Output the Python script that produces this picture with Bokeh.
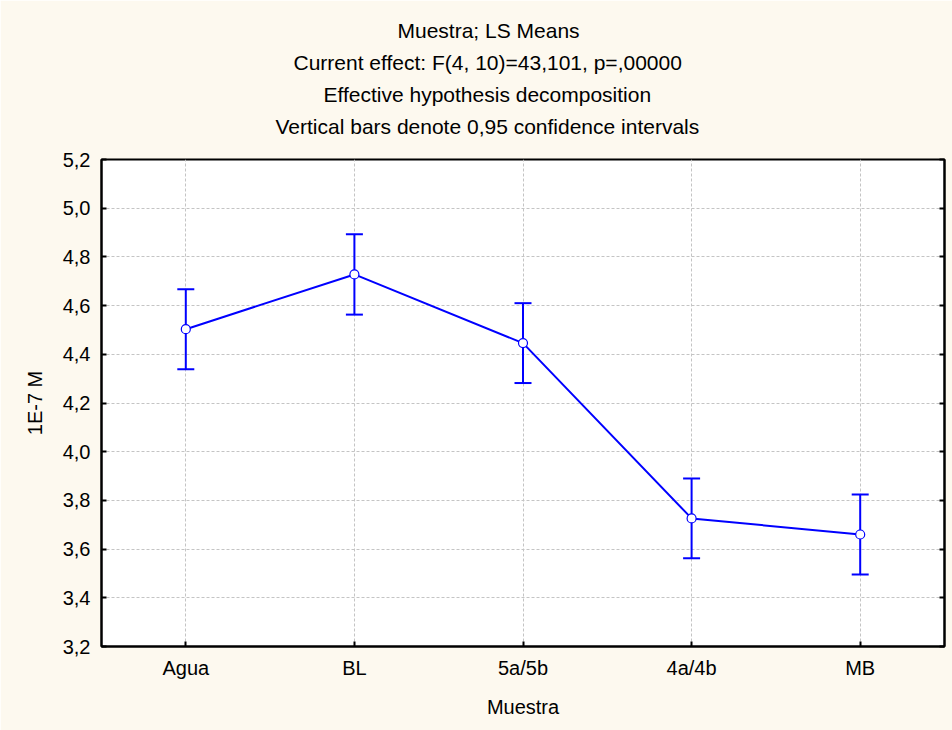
from bokeh.plotting import figure
from bokeh.models import (ColumnDataSource, Whisker, TeeHead, FactorRange, Range1d,
                          LinearAxis, FixedTicker, CustomJSTickFormatter, Title)
from bokeh.embed import file_html
from bokeh.resources import INLINE

# LS means per sample with 95% confidence limits
categories = ["Agua", "BL", "5a/5b", "4a/4b", "MB"]
means = [4.503, 4.728, 4.446, 3.726, 3.660]
ci_low = [4.339, 4.563, 4.282, 3.562, 3.496]
ci_high = [4.667, 4.893, 4.610, 3.890, 3.824]
y_ticks = [3.2, 3.4, 3.6, 3.8, 4.0, 4.2, 4.4, 4.6, 4.8, 5.0, 5.2]

title_lines = [
    "Muestra; LS Means",
    "Current effect: F(4, 10)=43,101, p=,00000",
    "Effective hypothesis decomposition",
    "Vertical bars denote 0,95 confidence intervals",
]
# left offsets (px from the frame's left edge) that centre each line on the page
title_offsets = [296, 192, 222, 174]

FONT = "Liberation Sans"
FS = "20px"
BG = "#fdf9ef"
BLUE = "#0000ff"

src = ColumnDataSource(dict(cat=categories, mean=means, lo=ci_low, hi=ci_high))

p = figure(width=952, height=730, output_backend="svg", toolbar_location=None,
           x_range=FactorRange(*categories, range_padding=0),
           y_range=Range1d(3.2, 5.2),
           min_border_left=101, min_border_right=8,
           min_border_top=159, min_border_bottom=84)
p.title = None
p.background_fill_color = "white"
p.border_fill_color = BG
p.outline_line_color = "black"
p.outline_line_width = 2

# small gap between the header block and the frame
p.add_layout(Title(text=" ", text_font=FONT, text_font_size="4px", standoff=11), "above")

# stacked header lines (first added sits nearest the frame)
for line, off in reversed(list(zip(title_lines, title_offsets))):
    p.add_layout(Title(text=line, align="left", offset=off, text_font=FONT,
                       text_font_size="21px", text_font_style="normal",
                       text_color="black", standoff=7), "above")

fmt = CustomJSTickFormatter(code="return tick.toFixed(1).replace('.', ',');")

# axes
p.yaxis.ticker = FixedTicker(ticks=y_ticks)
p.yaxis.formatter = fmt
p.yaxis.axis_label = "1E-7 M"
for ax in (p.xaxis[0], p.yaxis[0]):
    ax.axis_line_color = "black"
    ax.axis_line_width = 2
    ax.major_tick_in = 5
    ax.major_tick_out = 0
    ax.minor_tick_line_color = None
    ax.major_tick_line_color = "black"
    ax.major_tick_line_width = 2
    ax.major_label_text_font = FONT
    ax.major_label_text_font_size = FS
    ax.major_label_text_color = "black"
    ax.axis_label_text_font = FONT
    ax.axis_label_text_font_size = FS
    ax.axis_label_text_font_style = "normal"
    ax.axis_label_text_color = "black"
p.yaxis.major_label_standoff = 11
p.yaxis.axis_label_standoff = 14
p.xaxis.major_label_standoff = 10
p.xaxis.axis_label = "Muestra"
p.xaxis.axis_label_standoff = 14

right = LinearAxis(ticker=FixedTicker(ticks=y_ticks),
                   formatter=CustomJSTickFormatter(code="return '';"),
                   major_tick_in=5, major_tick_out=0, minor_tick_line_color=None,
                   major_tick_line_width=2, axis_line_width=2,
                   major_label_text_font_size="1px", major_label_standoff=0)
p.add_layout(right, "right")

# grid
for g in (p.xgrid[0], p.ygrid[0]):
    g.grid_line_color = "#c4c4c4"
    g.grid_line_dash = "3 2"
    g.grid_line_width = 1
p.ygrid.ticker = FixedTicker(ticks=y_ticks)

# confidence interval bars
whisk = Whisker(base="cat", lower="lo", upper="hi", source=src,
                line_color=BLUE, line_width=2,
                upper_head=TeeHead(size=17, line_color=BLUE, line_width=2),
                lower_head=TeeHead(size=17, line_color=BLUE, line_width=2))
p.add_layout(whisk)

p.line(x="cat", y="mean", source=src, line_color=BLUE, line_width=2)
p.scatter(x="cat", y="mean", source=src, size=9, fill_color="white",
          line_color=BLUE, line_width=1.2)

open("out.html", "w").write(file_html(p, INLINE))
